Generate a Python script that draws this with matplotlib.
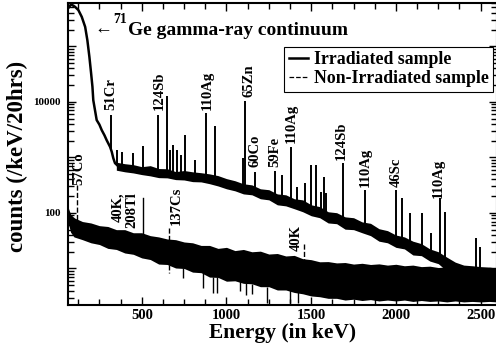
import numpy as np
import matplotlib
matplotlib.use("Agg")
import matplotlib.pyplot as plt
from matplotlib.ticker import FixedLocator, FixedFormatter, LogLocator, NullFormatter, MultipleLocator

plt.rcParams['font.family'] = ['Liberation Serif', 'DejaVu Serif']
plt.rcParams['font.weight'] = 'bold'

# ---------------- data ----------------
# 71Ge gamma-ray continuum (irradiated sample, low-energy part)
ge_E = [65, 83, 106, 126, 146, 166, 179, 191, 201, 209, 214, 224, 234, 250, 264,
        280, 293, 313, 323, 332, 342, 360, 372]
ge_counts = [480000, 569000, 515000, 449000, 339000, 224000, 129000, 64600, 33000,
             18700, 10700, 7100, 4700, 3900, 3090, 2500, 2040, 1550, 1260, 970, 790,
             700, 660]

# irradiated sample continuum band (upper / lower envelope)
irr_E = [350, 400, 450, 500, 550, 600, 650, 700, 750, 800, 850, 900, 950, 1000,
         1050, 1100, 1150, 1200, 1250, 1300, 1350, 1400, 1450, 1500, 1550, 1600,
         1650, 1700, 1750, 1800, 1850, 1900, 1950, 2000, 2050, 2100, 2150, 2200,
         2250, 2300, 2350, 2400, 2450, 2500, 2550, 2600]
irr_upper = [819, 770, 740, 680, 710, 630, 625, 555, 580, 550, 530, 505, 470, 415,
             380, 335, 320, 272, 262, 220, 212, 180, 172, 140, 130, 105, 101, 85,
             82, 69, 65, 52, 48, 40, 37, 31, 28, 22.5, 20, 16, 13, 11.5, 11.2, 10.8,
             10.6, 10.1]
irr_lower = [588, 550, 525, 490, 465, 432, 428, 398, 392, 366, 362, 336, 306, 272,
             250, 220, 212, 180, 172, 140, 134, 119, 105, 89, 82, 66, 64, 51, 50,
             44, 39, 31, 29, 24, 22.5, 17.5, 17, 13.6, 12.2, 9, 6.1, 4.4, 4.1, 3.7,
             3.8, 3.5]

# irradiated sample peaks: energy, top, base
pk_E = [319, 352, 382, 449, 508, 596, 649, 667, 685, 708, 732, 756, 815, 879, 933,
        1096, 1112, 1168, 1286, 1326, 1379, 1415, 1463, 1499, 1528, 1558, 1573, 1588,
        1686, 1815, 2003, 2034, 2083, 2154, 2207, 2258, 2288, 2470, 2494]
pk_top = [5760, 1350, 1240, 1190, 1590, 5760, 12670, 1350, 1660, 1350, 1095, 2510,
          890, 6260, 3650, 967, 10300, 541, 564, 478, 1530, 290, 343, 724, 724, 236,
          440, 226, 786, 256, 256, 184, 99, 99, 43, 184, 106, 35, 24]
pk_base = [1400, 724, 666, 639, 588, 541, 498, 498, 478, 478, 478, 478, 458, 422,
           388, 279, 279, 246, 192, 177, 156, 144, 127, 112, 103, 95, 91, 87, 71, 53,
           32, 30, 25, 21, 18, 15.3, 13.5, 7.2, 7.0]

# non-irradiated sample band (upper / lower envelope)
bg_E = [65, 80, 100, 150, 200, 250, 300, 350, 400, 450, 500, 550, 600, 650, 700,
        750, 800, 850, 900, 950, 1000, 1050, 1100, 1150, 1200, 1250, 1300, 1350,
        1400, 1450, 1500, 1550, 1600, 1650, 1700, 1750, 1800, 1850, 1900, 1950,
        2000, 2050, 2100, 2150, 2200, 2250, 2300, 2350, 2400, 2450, 2500, 2550, 2600]
bg_upper = [127, 95, 82, 70, 66, 59, 57, 50, 50, 44, 44, 39, 37, 34, 33, 30, 29,
            26, 26, 23, 24, 21, 22, 20, 20.5, 18.2, 18.6, 16.8, 17.2, 15, 14.4, 13.2,
            13.3, 12.6, 12.8, 12.0, 12.4, 11.8, 12.1, 11.5, 11.9, 11.2, 11.5, 10.8,
            11.0, 10.4, 10.7, 10.1, 10.4, 9.8, 10.2, 9.6, 9.8]
bg_lower = [68, 45, 37, 33, 29, 27, 23, 22, 19, 18, 15.5, 14.5, 12, 11.8, 10.2, 10,
            8.6, 8.4, 7.0, 6.9, 5.9, 6.0, 5.4, 5.3, 4.7, 4.7, 4.1, 4.1, 3.7, 3.5,
            3.2, 3.1, 2.9, 2.9, 2.7, 2.8, 2.65, 2.75, 2.6, 2.7, 2.6, 2.7, 2.55,
            2.65, 2.55, 2.6, 2.5, 2.6, 2.5, 2.55, 2.5, 2.55, 2.5]

# downward noise spikes of the non-irradiated spectrum: energy, bottom, top
sp_E = [745, 860, 922, 945, 1080, 1116, 1150, 1240, 1376, 1422]
sp_low = [6.7, 4.5, 3.6, 3.6, 4.0, 3.3, 3.4, 2.4, 2.4, 2.4]
sp_high = [10, 8.4, 7.0, 6.9, 5.9, 5.4, 5.3, 4.7, 4.1, 3.7]

# peak labels (irradiated): text, x centre (keV), bottom of text (counts)
lab_txt = ["51Cr", "124Sb", "110Ag", "65Zn", "60Co", "59Fe", "110Ag", "124Sb",
           "110Ag", "46Sc", "110Ag"]
lab_E = [316, 602, 885, 1130, 1171, 1286, 1384, 1679, 1817, 2003, 2248]
lab_y = [7100, 7100, 7100, 12150, 666, 666, 1800, 890, 290, 290, 184]

# background labels: text, x centre, bottom, marker line energy, line top, line bottom
bl_txt = ["57Co", "40K,\n208Tl", "137Cs", "40K"]
bl_E = [130, 401, 702, 1410]
bl_y = [316, 53, 60, 21]
bl_lineE = [118, 505, 660, 1460]
bl_top = [316, 184, 53, 28]
bl_bot = [66, 32, 8.2, 12.9]
bl_style = ['--', '-', '--', '--']

# ---------------- figure ----------------
fig = plt.figure(figsize=(4.96, 3.49), dpi=100)
ax = fig.add_axes([67.7 / 496, (349 - 305) / 349, (496.6 - 67.7) / 496, (305 - 2.7) / 349])
ax.set_yscale('log')
ax.set_xlim(63, 2594)
ax.set_ylim(2.2, 6.1e5)

# non-irradiated
ax.fill_between(bg_E, bg_lower, bg_upper, color='black', lw=0)
ax.vlines(sp_E, sp_low, sp_high, color='black', lw=1.0)
ax.plot([], [], color='black', lw=0.9, ls='--', label='Non-Irradiated sample')

# irradiated
ax.fill_between(irr_E, irr_lower, irr_upper, color='black', lw=0)
ax.vlines(pk_E, pk_base, pk_top, color='black', lw=1.4)
ax.plot(ge_E, ge_counts, color='black', lw=1.8, label='Irradiated sample')

# labels
for t, e, y in zip(lab_txt, lab_E, lab_y):
    ax.text(e, y, t, rotation=90, ha='center', va='bottom', fontsize=10.5,
            fontweight='bold')
for t, e, y, le, lt, lb, ls in zip(bl_txt, bl_E, bl_y, bl_lineE, bl_top, bl_bot, bl_style):
    ax.text(e, y, t, rotation=90, ha='center', va='bottom', fontsize=10.5,
            fontweight='bold', multialignment='right', linespacing=1.1)
    ax.plot([le, le], [lt, lb], color='black', lw=1.0, ls=ls)

# continuum annotation
ax.text((94 - 67.7) / 428.9, (305 - 29) / 302.3, "\u2190", transform=ax.transAxes,
        ha='left', va='center', fontsize=13, fontweight='normal')
ax.text((113 - 67.7) / 428.9, (305 - 23) / 302.3, "71", transform=ax.transAxes,
        ha='left', va='baseline', fontsize=10, fontweight='bold')
ax.text((128 - 67.7) / 428.9, (305 - 35) / 302.3, "Ge gamma-ray continuum",
        transform=ax.transAxes, ha='left', va='baseline', fontsize=14, fontweight='bold')

# axes styling
ax.xaxis.set_major_locator(FixedLocator([500, 1000, 1500, 2000, 2500]))
ax.xaxis.set_minor_locator(MultipleLocator(125))
ax.yaxis.set_major_locator(FixedLocator([10, 100, 1000, 10000, 100000]))
ax.yaxis.set_major_formatter(FixedFormatter(['', '100', '', '10000', '']))
ax.yaxis.set_minor_locator(LogLocator(base=10, subs=np.arange(2, 10), numticks=20))
ax.yaxis.set_minor_formatter(NullFormatter())
ax.tick_params(which='both', direction='in', top=True, right=True, width=1.0)
ax.tick_params(which='major', length=6)
ax.tick_params(which='minor', length=4)
ax.tick_params(axis='x', which='major', labelsize=10.5, pad=3)
ax.tick_params(axis='y', which='major', labelsize=8, pad=5)
for lab in ax.get_xticklabels() + ax.get_yticklabels():
    lab.set_fontweight('bold')
for s in ax.spines.values():
    s.set_linewidth(1.5)

ax.set_xlabel('Energy (in keV)', fontsize=15.5, fontweight='bold')
ax.xaxis.set_label_coords(0.501, -0.06)
ax.set_ylabel('counts (/keV/20hrs)', fontsize=16.5, fontweight='bold')
ax.yaxis.set_label_coords(-0.092, 0.49)

h, l = ax.get_legend_handles_labels()
leg = ax.legend(h[::-1], l[::-1], loc='upper right', bbox_to_anchor=(0.9916, 0.8535),
                borderaxespad=0, handlelength=1.1, handletextpad=0.3,
                labelspacing=0.1, borderpad=0.25, fancybox=False, framealpha=1,
                edgecolor='black', prop={'weight': 'bold', 'size': 12.8})
leg.get_frame().set_linewidth(0.8)

fig.savefig('out.png', dpi=100)
